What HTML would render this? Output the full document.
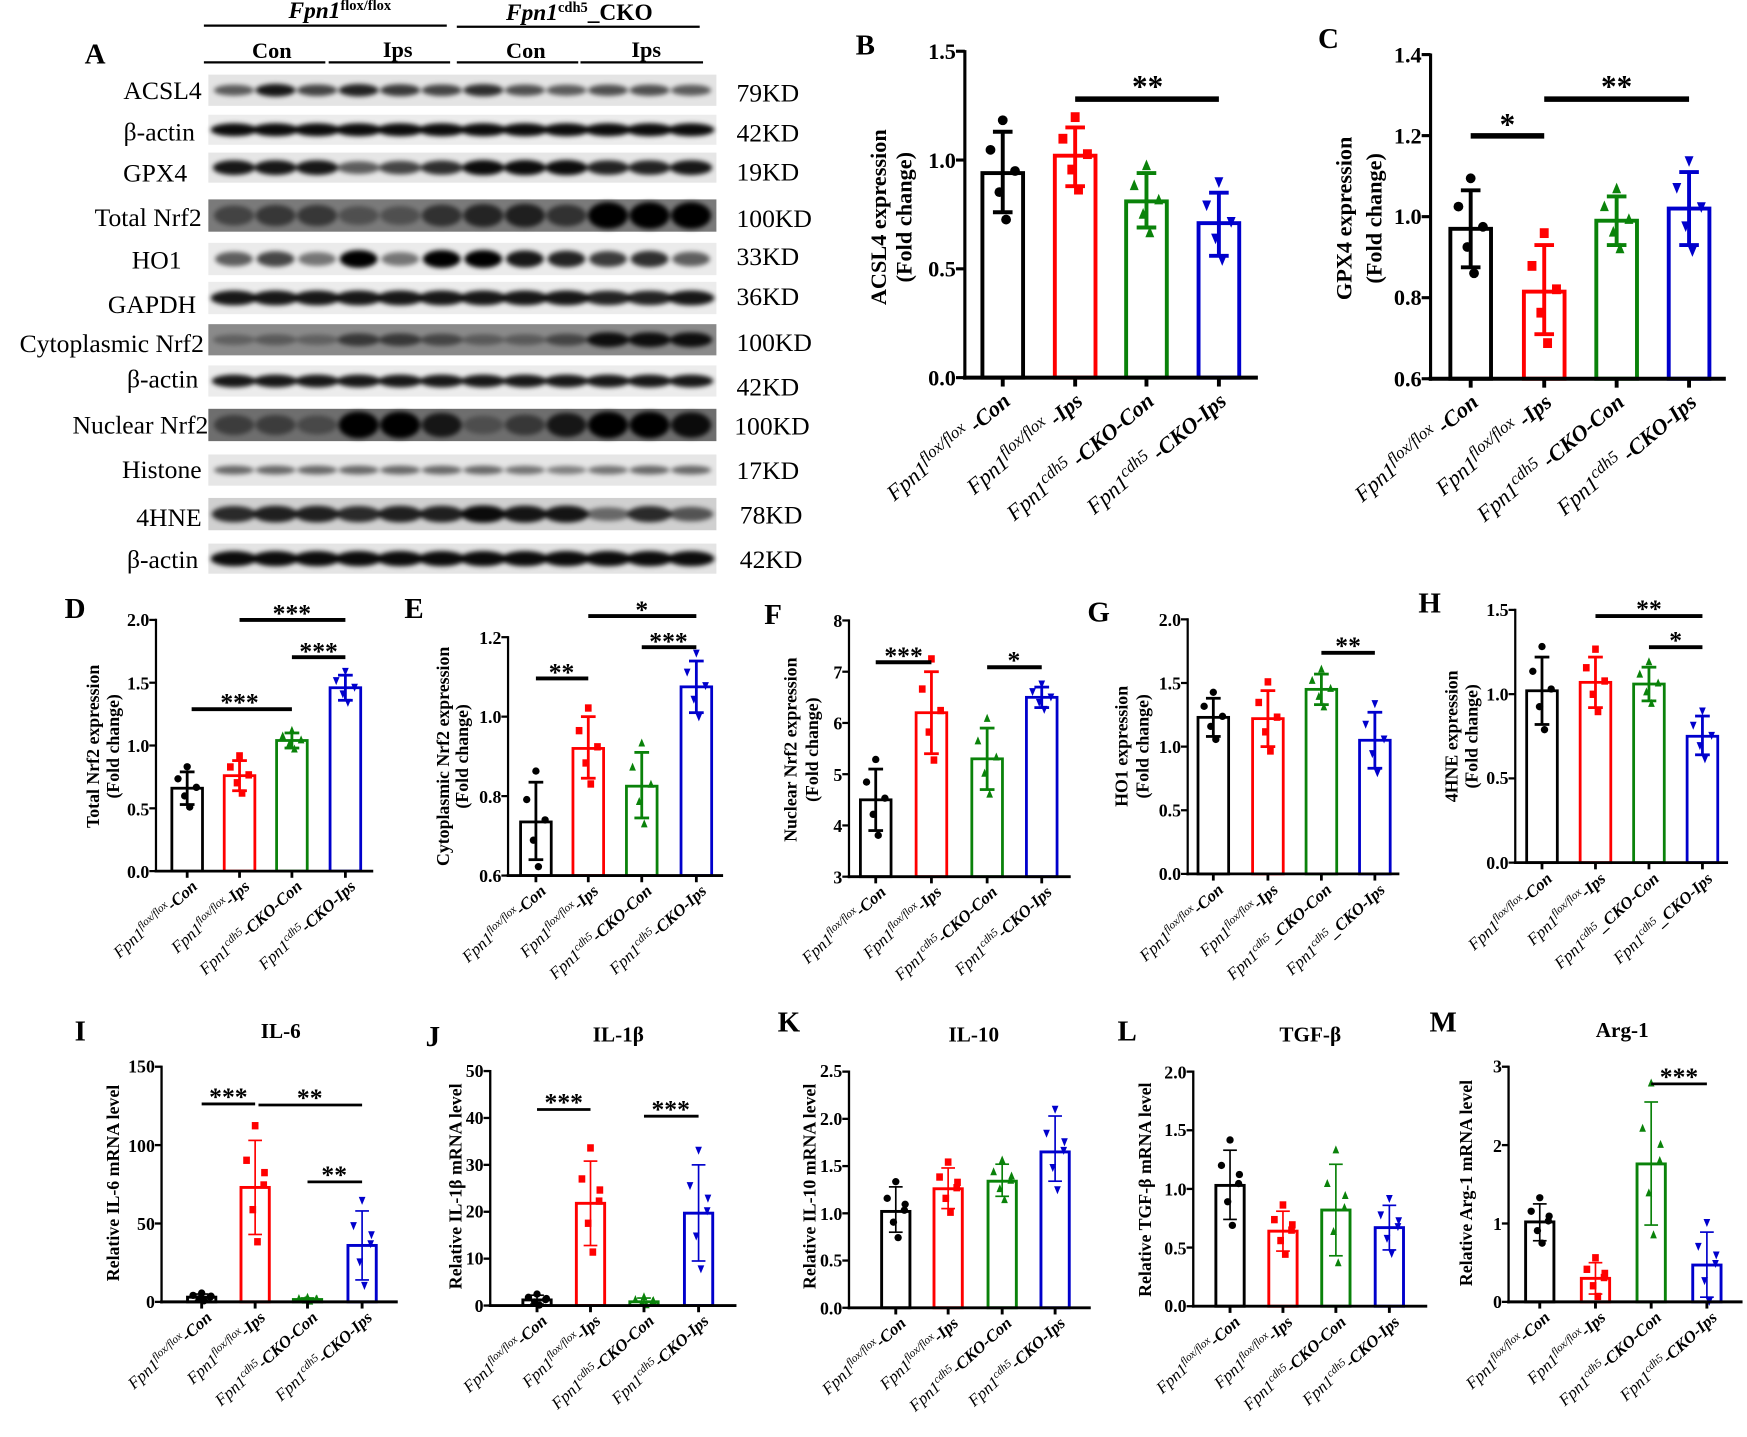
<!DOCTYPE html>
<html><head><meta charset="utf-8"><style>
html,body{margin:0;padding:0;background:#fff}
svg{display:block}
text{font-family:"Liberation Serif",serif;fill:#000}
.pl{font-size:26px;font-weight:bold}
.tk{font-size:20px;font-weight:bold;text-anchor:end}
.tks{font-size:16px;font-weight:bold;text-anchor:end}
.yt{font-size:20px;font-weight:bold;text-anchor:middle}
.yts{font-size:16px;font-weight:bold;text-anchor:middle}
.xl{font-size:20px;font-style:italic;text-anchor:end}
.xs{font-size:15px;font-style:italic;text-anchor:end}
.st{font-size:28px;font-weight:bold;text-anchor:middle}
.sts{font-size:23px;font-weight:bold;text-anchor:middle}
.ti{font-size:19px;font-weight:bold;text-anchor:middle}
.wl{font-size:23px;text-anchor:end}
.kd{font-size:23px}
</style></head><body>
<svg id="s" width="1747" height="1437" viewBox="0 0 1568 1290" preserveAspectRatio="none" xmlns="http://www.w3.org/2000/svg">
<defs><filter id="bl" x="-20%" y="-50%" width="140%" height="200%"><feGaussianBlur stdDeviation="2.2"/></filter></defs>
<rect width="1568" height="1290" fill="#fff"/>
<g id="blots"></g>
<g id="charts"></g>

<text class="pl" x="76" y="57">A</text>
<text x="305" y="16" text-anchor="middle" font-size="21" font-weight="bold"><tspan font-style="italic">Fpn1</tspan><tspan font-size="13" dy="-7">flox/flox</tspan></text>
<text x="520" y="18" text-anchor="middle" font-size="21" font-weight="bold"><tspan font-style="italic">Fpn1</tspan><tspan font-size="13" dy="-7">cdh5</tspan><tspan dy="7">_CKO</tspan></text>
<g stroke="#000" stroke-width="2"><line x1="183" y1="23" x2="401" y2="23"/><line x1="410" y1="24" x2="628" y2="24"/>
<line x1="183" y1="56" x2="292" y2="56"/><line x1="295" y1="56" x2="404" y2="56"/><line x1="410" y1="56" x2="519" y2="56"/><line x1="521" y1="56" x2="631" y2="56"/></g>
<g font-size="20" font-weight="bold" text-anchor="middle"><text x="244" y="52">Con</text><text x="357" y="51">Ips</text><text x="472" y="52">Con</text><text x="580" y="51">Ips</text></g>
<text class="wl" x="181" y="89">ACSL4</text>
<text class="wl" x="175" y="126">β-actin</text>
<text class="wl" x="168" y="163">GPX4</text>
<text class="wl" x="181" y="203">Total Nrf2</text>
<text class="wl" x="163" y="241">HO1</text>
<text class="wl" x="176" y="281">GAPDH</text>
<text class="wl" x="183" y="316">Cytoplasmic Nrf2</text>
<text class="wl" x="178" y="348">β-actin</text>
<text class="wl" x="187" y="389">Nuclear Nrf2</text>
<text class="wl" x="181" y="429">Histone</text>
<text class="wl" x="181" y="472">4HNE</text>
<text class="wl" x="178" y="510">β-actin</text>
<text class="kd" x="661" y="91">79KD</text>
<text class="kd" x="661" y="127">42KD</text>
<text class="kd" x="661" y="162">19KD</text>
<text class="kd" x="661" y="204">100KD</text>
<text class="kd" x="661" y="238">33KD</text>
<text class="kd" x="661" y="274">36KD</text>
<text class="kd" x="661" y="315">100KD</text>
<text class="kd" x="661" y="355">42KD</text>
<text class="kd" x="659" y="390">100KD</text>
<text class="kd" x="661" y="430">17KD</text>
<text class="kd" x="664" y="470">78KD</text>
<text class="kd" x="664" y="510">42KD</text>

<text class="pl" x="768" y="49">B</text>
<text class="pl" x="1183" y="43">C</text>
<text class="pl" x="58" y="555">D</text>
<text class="pl" x="363" y="555">E</text>
<text class="pl" x="686" y="560">F</text>
<text class="pl" x="976" y="558">G</text>
<text class="pl" x="1273" y="550">H</text>
<text class="pl" x="67" y="934">I</text>
<text class="pl" x="382" y="939">J</text>
<text class="pl" x="698" y="926">K</text>
<text class="pl" x="1003" y="934">L</text>
<text class="pl" x="1283" y="926">M</text>
<text class="ti" x="252" y="932">IL-6</text>
<text class="ti" x="555" y="935">IL-1β</text>
<text class="ti" x="874" y="935">IL-10</text>
<text class="ti" x="1176" y="935">TGF-β</text>
<text class="ti" x="1456" y="931">Arg-1</text>

<text class="yt" transform="translate(795,195) rotate(-90)">ACSL4 expression</text>
<text class="yt" transform="translate(818,195) rotate(-90)">(Fold change)</text>
<text class="yt" transform="translate(1213,196) rotate(-90)">GPX4 expression</text>
<text class="yt" transform="translate(1240,196) rotate(-90)">(Fold change)</text>
<text class="yts" transform="translate(89,670) rotate(-90)">Total Nrf2 expression</text>
<text class="yts" transform="translate(107,670) rotate(-90)">(Fold change)</text>
<text class="yts" font-size="15" transform="translate(403,679) rotate(-90)">Cytoplasmic Nrf2 expression</text>
<text class="yts" font-size="15" transform="translate(420,679) rotate(-90)">(Fold change)</text>
<text class="yts" transform="translate(715,673) rotate(-90)">Nuclear Nrf2 expression</text>
<text class="yts" transform="translate(734,673) rotate(-90)">(Fold change)</text>
<text class="yts" transform="translate(1012,670) rotate(-90)">HO1 expression</text>
<text class="yts" transform="translate(1031,670) rotate(-90)">(Fold change)</text>
<text class="yts" transform="translate(1308,661) rotate(-90)">4HNE expression</text>
<text class="yts" transform="translate(1326,661) rotate(-90)">(Fold change)</text>
<text class="yts" font-size="17" transform="translate(107,1062) rotate(-90)">Relative IL-6 mRNA level</text>
<text class="yts" font-size="17" transform="translate(414,1065) rotate(-90)">Relative IL-1β mRNA level</text>
<text class="yts" font-size="17" transform="translate(732,1065) rotate(-90)">Relative IL-10 mRNA level</text>
<text class="yts" font-size="17" transform="translate(1033,1068) rotate(-90)">Relative TGF-β mRNA level</text>
<text class="yts" font-size="17" transform="translate(1321,1062) rotate(-90)">Relative Arg-1 mRNA level</text>

<text class="tk" x="858" y="53">1.5</text><text class="tk" x="858" y="151">1.0</text><text class="tk" x="858" y="248">0.5</text><text class="tk" x="858" y="346">0.0</text>
<text class="tk" x="1276" y="56">1.4</text><text class="tk" x="1276" y="129">1.2</text><text class="tk" x="1276" y="201">1.0</text><text class="tk" x="1276" y="274">0.8</text><text class="tk" x="1276" y="347">0.6</text>
<text class="tks" x="134" y="562">2.0</text><text class="tks" x="134" y="619">1.5</text><text class="tks" x="134" y="675">1.0</text><text class="tks" x="134" y="732">0.5</text><text class="tks" x="134" y="788">0.0</text>
<text class="tks" x="450" y="578">1.2</text><text class="tks" x="450" y="649">1.0</text><text class="tks" x="450" y="721">0.8</text><text class="tks" x="450" y="792">0.6</text>
<text class="tks" x="756" y="563">8</text><text class="tks" x="756" y="609">7</text><text class="tks" x="756" y="655">6</text><text class="tks" x="756" y="701">5</text><text class="tks" x="756" y="747">4</text><text class="tks" x="756" y="793">3</text>
<text class="tks" x="1060" y="562">2.0</text><text class="tks" x="1060" y="619">1.5</text><text class="tks" x="1060" y="676">1.0</text><text class="tks" x="1060" y="733">0.5</text><text class="tks" x="1060" y="790">0.0</text>
<text class="tks" x="1354" y="553">1.5</text><text class="tks" x="1354" y="629">1.0</text><text class="tks" x="1354" y="704">0.5</text><text class="tks" x="1354" y="780">0.0</text>
<text class="tks" x="139" y="963">150</text><text class="tks" x="139" y="1034">100</text><text class="tks" x="139" y="1104">50</text><text class="tks" x="139" y="1174">0</text>
<text class="tks" x="434" y="967">50</text><text class="tks" x="434" y="1009">40</text><text class="tks" x="434" y="1051">30</text><text class="tks" x="434" y="1093">20</text><text class="tks" x="434" y="1135">10</text><text class="tks" x="434" y="1178">0</text>
<text class="tks" x="756" y="967">2.5</text><text class="tks" x="756" y="1010">2.0</text><text class="tks" x="756" y="1052">1.5</text><text class="tks" x="756" y="1095">1.0</text><text class="tks" x="756" y="1137">0.5</text><text class="tks" x="756" y="1180">0.0</text>
<text class="tks" x="1065" y="968">2.0</text><text class="tks" x="1065" y="1020">1.5</text><text class="tks" x="1065" y="1073">1.0</text><text class="tks" x="1065" y="1126">0.5</text><text class="tks" x="1065" y="1178">0.0</text>
<text class="tks" x="1348" y="963">3</text><text class="tks" x="1348" y="1034">2</text><text class="tks" x="1348" y="1104">1</text><text class="tks" x="1348" y="1174">0</text>

<text class="st" x="1030" y="87">**</text>
<text class="st" x="1353" y="121">*</text>
<text class="st" x="1451" y="87">**</text>
<text class="sts" x="215" y="638">***</text><text class="sts" x="262" y="558">***</text><text class="sts" x="286" y="592">***</text>
<text class="sts" x="504" y="611">**</text><text class="sts" x="600" y="583">***</text><text class="sts" x="576" y="555">*</text>
<text class="sts" x="811" y="596">***</text><text class="sts" x="910" y="600">*</text>
<text class="sts" x="1210" y="587">**</text>
<text class="sts" x="1480" y="554">**</text><text class="sts" x="1504" y="582">*</text>
<text class="sts" x="205" y="992">***</text><text class="sts" x="278" y="993">**</text><text class="sts" x="300" y="1062">**</text>
<text class="sts" x="506" y="997">***</text><text class="sts" x="602" y="1003">***</text>
<text class="sts" x="1507" y="974">***</text>

<text class="xl" transform="translate(908,362) rotate(-40)">Fpn1<tspan font-size="15" dy="-8">flox/flox</tspan><tspan dy="8" font-weight="bold"> -Con</tspan></text>
<text class="xl" transform="translate(973,362) rotate(-40)">Fpn1<tspan font-size="15" dy="-8">flox/flox</tspan><tspan dy="8" font-weight="bold"> -Ips</tspan></text>
<text class="xl" transform="translate(1037,362) rotate(-40)">Fpn1<tspan font-size="15" dy="-8">cdh5</tspan><tspan dy="8" font-weight="bold"> -CKO-Con</tspan></text>
<text class="xl" transform="translate(1102,362) rotate(-40)">Fpn1<tspan font-size="15" dy="-8">cdh5</tspan><tspan dy="8" font-weight="bold"> -CKO-Ips</tspan></text>
<text class="xl" transform="translate(1328,363) rotate(-40)">Fpn1<tspan font-size="15" dy="-8">flox/flox</tspan><tspan dy="8" font-weight="bold"> -Con</tspan></text>
<text class="xl" transform="translate(1394,363) rotate(-40)">Fpn1<tspan font-size="15" dy="-8">flox/flox</tspan><tspan dy="8" font-weight="bold"> -Ips</tspan></text>
<text class="xl" transform="translate(1459,363) rotate(-40)">Fpn1<tspan font-size="15" dy="-8">cdh5</tspan><tspan dy="8" font-weight="bold"> -CKO-Con</tspan></text>
<text class="xl" transform="translate(1524,363) rotate(-40)">Fpn1<tspan font-size="15" dy="-8">cdh5</tspan><tspan dy="8" font-weight="bold"> -CKO-Ips</tspan></text>

<text class="xs" transform="translate(178,797) rotate(-42)">Fpn1<tspan font-size="10" dy="-6">flox/flox</tspan><tspan dy="6" font-weight="bold">-Con</tspan></text>
<text class="xs" transform="translate(225,797) rotate(-42)">Fpn1<tspan font-size="10" dy="-6">flox/flox</tspan><tspan dy="6" font-weight="bold">-Ips</tspan></text>
<text class="xs" transform="translate(272,797) rotate(-42)">Fpn1<tspan font-size="10" dy="-6">cdh5</tspan><tspan dy="6" font-weight="bold">-CKO-Con</tspan></text>
<text class="xs" transform="translate(320,797) rotate(-42)">Fpn1<tspan font-size="10" dy="-6">cdh5</tspan><tspan dy="6" font-weight="bold">-CKO-Ips</tspan></text>

<text class="xs" transform="translate(491,801) rotate(-42)">Fpn1<tspan font-size="10" dy="-6">flox/flox</tspan><tspan dy="6" font-weight="bold">-Con</tspan></text>
<text class="xs" transform="translate(538,801) rotate(-42)">Fpn1<tspan font-size="10" dy="-6">flox/flox</tspan><tspan dy="6" font-weight="bold">-Ips</tspan></text>
<text class="xs" transform="translate(586,801) rotate(-42)">Fpn1<tspan font-size="10" dy="-6">cdh5</tspan><tspan dy="6" font-weight="bold">-CKO-Con</tspan></text>
<text class="xs" transform="translate(635,801) rotate(-42)">Fpn1<tspan font-size="10" dy="-6">cdh5</tspan><tspan dy="6" font-weight="bold">-CKO-Ips</tspan></text>

<text class="xs" transform="translate(796,802) rotate(-42)">Fpn1<tspan font-size="10" dy="-6">flox/flox</tspan><tspan dy="6" font-weight="bold">-Con</tspan></text>
<text class="xs" transform="translate(846,802) rotate(-42)">Fpn1<tspan font-size="10" dy="-6">flox/flox</tspan><tspan dy="6" font-weight="bold">-Ips</tspan></text>
<text class="xs" transform="translate(896,802) rotate(-42)">Fpn1<tspan font-size="10" dy="-6">cdh5</tspan><tspan dy="6" font-weight="bold">-CKO-Con</tspan></text>
<text class="xs" transform="translate(945,802) rotate(-42)">Fpn1<tspan font-size="10" dy="-6">cdh5</tspan><tspan dy="6" font-weight="bold">-CKO-Ips</tspan></text>

<text class="xs" transform="translate(1099,800) rotate(-42)">Fpn1<tspan font-size="10" dy="-6">flox/flox</tspan><tspan dy="6" font-weight="bold">-Con</tspan></text>
<text class="xs" transform="translate(1148,800) rotate(-42)">Fpn1<tspan font-size="10" dy="-6">flox/flox</tspan><tspan dy="6" font-weight="bold">-Ips</tspan></text>
<text class="xs" transform="translate(1196,800) rotate(-42)">Fpn1<tspan font-size="10" dy="-6">cdh5</tspan><tspan dy="6" font-weight="bold">_CKO-Con</tspan></text>
<text class="xs" transform="translate(1244,800) rotate(-42)">Fpn1<tspan font-size="10" dy="-6">cdh5</tspan><tspan dy="6" font-weight="bold">_CKO-Ips</tspan></text>

<text class="xs" transform="translate(1394,790) rotate(-42)">Fpn1<tspan font-size="10" dy="-6">flox/flox</tspan><tspan dy="6" font-weight="bold">-Con</tspan></text>
<text class="xs" transform="translate(1442,790) rotate(-42)">Fpn1<tspan font-size="10" dy="-6">flox/flox</tspan><tspan dy="6" font-weight="bold">-Ips</tspan></text>
<text class="xs" transform="translate(1490,790) rotate(-42)">Fpn1<tspan font-size="10" dy="-6">cdh5</tspan><tspan dy="6" font-weight="bold">_CKO-Con</tspan></text>
<text class="xs" transform="translate(1538,790) rotate(-42)">Fpn1<tspan font-size="10" dy="-6">cdh5</tspan><tspan dy="6" font-weight="bold">_CKO-Ips</tspan></text>

<text class="xs" transform="translate(191,1184) rotate(-42)">Fpn1<tspan font-size="10" dy="-6">flox/flox</tspan><tspan dy="6" font-weight="bold">-Con</tspan></text>
<text class="xs" transform="translate(239,1184) rotate(-42)">Fpn1<tspan font-size="10" dy="-6">flox/flox</tspan><tspan dy="6" font-weight="bold">-Ips</tspan></text>
<text class="xs" transform="translate(286,1184) rotate(-42)">Fpn1<tspan font-size="10" dy="-6">cdh5</tspan><tspan dy="6" font-weight="bold">-CKO-Con</tspan></text>
<text class="xs" transform="translate(335,1184) rotate(-42)">Fpn1<tspan font-size="10" dy="-6">cdh5</tspan><tspan dy="6" font-weight="bold">-CKO-Ips</tspan></text>

<text class="xs" transform="translate(492,1187) rotate(-42)">Fpn1<tspan font-size="10" dy="-6">flox/flox</tspan><tspan dy="6" font-weight="bold">-Con</tspan></text>
<text class="xs" transform="translate(540,1187) rotate(-42)">Fpn1<tspan font-size="10" dy="-6">flox/flox</tspan><tspan dy="6" font-weight="bold">-Ips</tspan></text>
<text class="xs" transform="translate(588,1187) rotate(-42)">Fpn1<tspan font-size="10" dy="-6">cdh5</tspan><tspan dy="6" font-weight="bold">-CKO-Con</tspan></text>
<text class="xs" transform="translate(637,1187) rotate(-42)">Fpn1<tspan font-size="10" dy="-6">cdh5</tspan><tspan dy="6" font-weight="bold">-CKO-Ips</tspan></text>

<text class="xs" transform="translate(814,1189) rotate(-42)">Fpn1<tspan font-size="10" dy="-6">flox/flox</tspan><tspan dy="6" font-weight="bold">-Con</tspan></text>
<text class="xs" transform="translate(861,1189) rotate(-42)">Fpn1<tspan font-size="10" dy="-6">flox/flox</tspan><tspan dy="6" font-weight="bold">-Ips</tspan></text>
<text class="xs" transform="translate(909,1189) rotate(-42)">Fpn1<tspan font-size="10" dy="-6">cdh5</tspan><tspan dy="6" font-weight="bold">-CKO-Con</tspan></text>
<text class="xs" transform="translate(957,1189) rotate(-42)">Fpn1<tspan font-size="10" dy="-6">cdh5</tspan><tspan dy="6" font-weight="bold">-CKO-Ips</tspan></text>

<text class="xs" transform="translate(1114,1188) rotate(-42)">Fpn1<tspan font-size="10" dy="-6">flox/flox</tspan><tspan dy="6" font-weight="bold">-Con</tspan></text>
<text class="xs" transform="translate(1161,1188) rotate(-42)">Fpn1<tspan font-size="10" dy="-6">flox/flox</tspan><tspan dy="6" font-weight="bold">-Ips</tspan></text>
<text class="xs" transform="translate(1209,1188) rotate(-42)">Fpn1<tspan font-size="10" dy="-6">cdh5</tspan><tspan dy="6" font-weight="bold">-CKO-Con</tspan></text>
<text class="xs" transform="translate(1257,1188) rotate(-42)">Fpn1<tspan font-size="10" dy="-6">cdh5</tspan><tspan dy="6" font-weight="bold">-CKO-Ips</tspan></text>

<text class="xs" transform="translate(1392,1184) rotate(-42)">Fpn1<tspan font-size="10" dy="-6">flox/flox</tspan><tspan dy="6" font-weight="bold">-Con</tspan></text>
<text class="xs" transform="translate(1442,1184) rotate(-42)">Fpn1<tspan font-size="10" dy="-6">flox/flox</tspan><tspan dy="6" font-weight="bold">-Ips</tspan></text>
<text class="xs" transform="translate(1492,1184) rotate(-42)">Fpn1<tspan font-size="10" dy="-6">cdh5</tspan><tspan dy="6" font-weight="bold">-CKO-Con</tspan></text>
<text class="xs" transform="translate(1542,1184) rotate(-42)">Fpn1<tspan font-size="10" dy="-6">cdh5</tspan><tspan dy="6" font-weight="bold">-CKO-Ips</tspan></text>
</svg>
<script>
(function(){
const NS="http://www.w3.org/2000/svg";
function el(p,t,a){const e=document.createElementNS(NS,t);for(const k in a)e.setAttribute(k,a[k]);p.appendChild(e);return e;}
const B=document.getElementById('blots');
const rows=[
[67,95,'#e4e4e4',[.6,.9,.7,.85,.75,.7,.8,.65,.6,.65,.65,.6],6,18],
[103,130,'#ececec',[.95,.95,.95,.95,.95,.95,.95,.95,.95,.95,.95,.95],6,21],
[137,164,'#e6e6e6',[.9,.9,.9,.6,.7,.8,.95,.95,.95,.85,.85,.9],7,19],
[179,208,'#7a7a7a',[.45,.55,.55,.35,.35,.6,.7,.75,.6,1,1,1],12,18],
[218,247,'#ebebeb',[.6,.7,.5,1,.5,1,1,.9,.85,.75,.8,.6],8,17],
[253,282,'#ececec',[.9,.9,.9,.9,.9,.9,.9,.9,.9,.85,.85,.9],7,21],
[291,319,'#8a8a8a',[.3,.35,.3,.6,.6,.5,.35,.35,.5,.9,.9,.9],7,19],
[328,356,'#ececec',[.9,.9,.9,.9,.9,.9,.9,.9,.9,.9,.9,.9],6,20],
[367,396,'#6e6e6e',[.45,.45,.35,1,1,.8,.3,.5,.8,1,1,.9],12,18],
[408,436,'#e6e6e6',[.55,.55,.55,.55,.55,.55,.55,.5,.45,.5,.55,.55],5,18],
[447,476,'#d0d0d0',[.8,.85,.85,.8,.85,.85,.95,.9,.9,.5,.8,.6],8,20],
[488,515,'#e4e4e4',[.95,.95,.95,.95,.95,.95,.95,.95,.95,.95,.95,.95],7,21]];
rows.forEach(r=>{
 el(B,'rect',{x:187,y:r[0],width:456,height:r[1]-r[0],fill:r[2]});
 const cy=(r[0]+r[1])/2;const g=el(B,'g',{filter:'url(#bl)'});
 r[3].forEach((d,i)=>{const cx=210+i*37.3;
  el(g,'ellipse',{cx:cx,cy:cy,rx:r[5],ry:r[4]*(0.6+0.5*d)/1.1,fill:'#000','fill-opacity':d});});
});
const G=document.getElementById('charts');
const COL=['#000','#ff0000','#0a820a','#0000cc'];
const MK=['c','s','u','d'];
function marker(g,t,x,y,s,c){
 if(t=='c')el(g,'circle',{cx:x,cy:y,r:s*0.55,fill:c});
 else if(t=='s')el(g,'rect',{x:x-s*0.5,y:y-s*0.55,width:s,height:s*1.1,fill:c});
 else if(t=='u')el(g,'polygon',{points:`${x},${y-s*0.7} ${x-s*0.5},${y+s*0.5} ${x+s*0.5},${y+s*0.5}`,fill:c});
 else el(g,'polygon',{points:`${x},${y+s*0.7} ${x-s*0.5},${y-s*0.5} ${x+s*0.5},${y-s*0.5}`,fill:c});
}
const SP=[1.25,0.55,0.05,-0.45,-1.1,0.3];const DX=[0,-11,11,-3,3,12];
function P(o){
 const Y=v=>o.y0+(v-o.v0)*(o.y1-o.y0)/(o.v1-o.v0);
 const g=el(G,'g',{});const lw=o.lw,ms=o.ms,w=o.w;const base=Y(o.v0);
 o.cx.forEach((cx,i)=>{const [m,lo,hi]=o.vals[i];const c=COL[i];const ym=Y(m);
  el(g,'rect',{x:cx-w/2+lw/2,y:ym,width:w-lw,height:base-ym,fill:'#fff',stroke:c,'stroke-width':lw});
  const sd=(hi-lo)/2;
  for(let k=0;k<(o.np||5);k++){let v=m+sd*SP[k]*1.05;if(v<o.v0+0.001*(o.v1-o.v0))v=o.v0+0.003*(o.v1-o.v0);
   marker(g,MK[i],cx+DX[k]*w/40,Y(v),ms,c);}
  const el2=o.el||lw;
  el(g,'line',{x1:cx,y1:Y(lo),x2:cx,y2:Y(hi),stroke:c,'stroke-width':el2});
  el(g,'line',{x1:cx-w*0.22,y1:Y(hi),x2:cx+w*0.22,y2:Y(hi),stroke:c,'stroke-width':el2});
  el(g,'line',{x1:cx-w*0.22,y1:Y(lo),x2:cx+w*0.22,y2:Y(lo),stroke:c,'stroke-width':el2});
  el(g,'line',{x1:cx,y1:base,x2:cx,y2:base+o.tl,stroke:'#000','stroke-width':lw});
 });
 el(g,'line',{x1:o.ax,y1:Y(o.v1)-1,x2:o.ax,y2:base+lw/2,stroke:'#000','stroke-width':lw*0.8});
 el(g,'line',{x1:o.ax-lw/2,y1:base,x2:o.xr,y2:base,stroke:'#000','stroke-width':lw});
 o.ticks.forEach(v=>el(g,'line',{x1:o.ax-o.tl,y1:Y(v),x2:o.ax,y2:Y(v),stroke:'#000','stroke-width':lw*0.8}));
 (o.sig||[]).forEach(s=>el(g,'line',{x1:s[0],y1:s[2],x2:s[1],y2:s[2],stroke:'#000','stroke-width':o.sw}));
}
const r=(a,b,s)=>{const t=[];for(let v=a;v<=b+1e-9;v+=s)t.push(v);return t;};
P({ax:866,xr:1129,v0:0,y0:339,v1:1.5,y1:46,cx:[900,965,1029,1094],w:40,lw:3.5,ms:8,tl:8,sw:5,vals:[[.94,.76,1.13],[1.02,.88,1.15],[.81,.69,.94],[.71,.56,.85]],ticks:r(0,1.5,.5),sig:[[965,1094,89]]});
P({ax:1284,xr:1549,v0:.6,y0:340,v1:1.4,y1:49,cx:[1320,1386,1451,1516],w:40,lw:3.5,ms:8,tl:8,sw:5,vals:[[.97,.875,1.065],[.815,.71,.93],[.99,.93,1.05],[1.02,.93,1.11]],ticks:r(.6,1.4,.2),sig:[[1320,1386,122],[1386,1516,89]]});
const sm={w:30,lw:2.5,ms:6,tl:6,sw:3.5};
P(Object.assign({ax:140,xr:335,v0:0,y0:782,v1:2,y1:556.5,cx:[168,215,262,310],vals:[[.66,.53,.79],[.76,.64,.88],[1.04,.98,1.10],[1.46,1.36,1.56]],ticks:r(0,2,.5),sig:[[172,262,636.6],[215,310,556.5],[262,310,590]]},sm));
P(Object.assign({ax:456,xr:649,v0:.6,y0:786,v1:1.2,y1:572,cx:[481,528,576,625],vals:[[.735,.64,.835],[.92,.845,1.0],[.825,.745,.91],[1.075,1.01,1.14]],ticks:r(.6,1.2,.2),sig:[[481,528,609],[576,625,581],[528,625,553]]},sm));
P(Object.assign({ax:762,xr:961,v0:3,y0:787,v1:8,y1:557,cx:[786,836,886,935],vals:[[4.5,3.9,5.1],[6.2,5.4,7.0],[5.3,4.7,5.9],[6.5,6.3,6.7]],ticks:r(3,8,1),sig:[[786,836,594.5],[886,935,599]]},sm));
P(Object.assign({ax:1066,xr:1256,v0:0,y0:784.5,v1:2,y1:556,cx:[1089,1138,1186,1234],vals:[[1.23,1.08,1.38],[1.22,1.0,1.44],[1.45,1.33,1.57],[1.05,.83,1.27]],ticks:r(0,2,.5),sig:[[1186,1234,586]]},sm));
P(Object.assign({ax:1360,xr:1551,v0:0,y0:774.4,v1:1.5,y1:547.5,cx:[1384,1432,1480,1528],vals:[[1.02,.82,1.22],[1.07,.92,1.22],[1.06,.96,1.16],[.75,.64,.87]],ticks:r(0,1.5,.5),sig:[[1432,1528,553],[1480,1528,581]]},sm));
const bt={w:28,lw:2.6,ms:6,tl:6,sw:2.5,el:1.5,np:6};
P(Object.assign({ax:145,xr:357,v0:0,y0:1168.7,v1:150,y1:957.6,cx:[181,229,276,325],vals:[[3,1,5],[73,43,103],[1.5,.5,2.5],[36,14,58]],ticks:r(0,150,50),sig:[[181,229,991],[232,325,992],[276,325,1061]]},bt));
P(Object.assign({ax:440,xr:661,v0:0,y0:1172,v1:50,y1:961.5,cx:[482,530,578,627],vals:[[1.2,.3,2.2],[21.8,12.8,30.8],[.8,0,1.6],[19.7,9.5,30]],ticks:r(0,50,10),sig:[[482,530,996],[578,627,1002]]},bt));
P(Object.assign({ax:762,xr:979,v0:0,y0:1174,v1:2.5,y1:962,cx:[804,851,899.5,947],vals:[[1.02,.8,1.28],[1.26,1.05,1.48],[1.34,1.18,1.52],[1.65,1.34,2.03]],ticks:r(0,2.5,.5),sig:[]},bt));
P(Object.assign({ax:1071,xr:1281,v0:0,y0:1172.6,v1:2,y1:962,cx:[1104,1151.5,1199,1247],vals:[[1.03,.74,1.33],[.64,.47,.81],[.82,.43,1.21],[.67,.48,.86]],ticks:r(0,2,.5),sig:[]},bt));
P(Object.assign({ax:1354,xr:1564,v0:0,y0:1168.7,v1:3,y1:957.6,cx:[1382,1432,1482,1532],vals:[[1.02,.78,1.25],[.3,.1,.5],[1.76,.98,2.55],[.47,.06,.89]],ticks:r(0,3,1),sig:[[1482,1532,973]]},bt));
})();
</script>
</body></html>
